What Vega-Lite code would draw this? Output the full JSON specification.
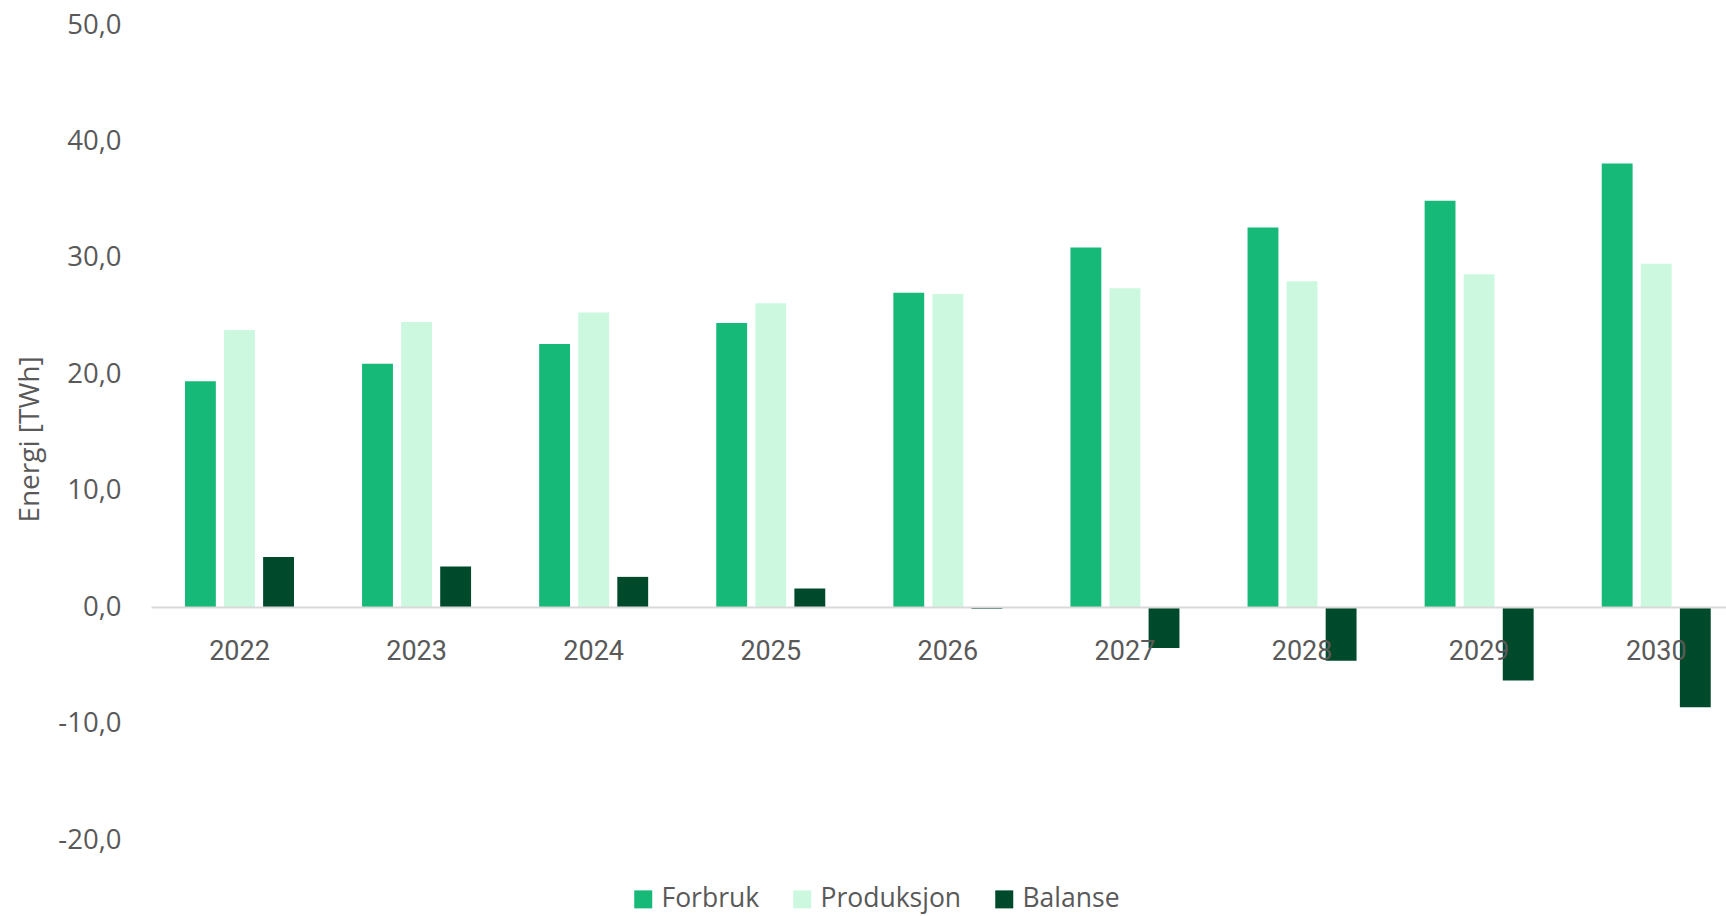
{
  "$schema": "https://vega.github.io/schema/vega-lite/v6.json",
  "width": 1575,
  "height": 815,
  "autosize": {"type": "none"},
  "padding": {"left": 151, "top": 25, "right": 0, "bottom": 76},
  "background": "white",
  "config": {"view": {"stroke": null}},
  "data": {
    "values": [
      {"year": "2022", "serie": "Forbruk", "value": 19.4},
      {"year": "2022", "serie": "Produksjon", "value": 23.8},
      {"year": "2022", "serie": "Balanse", "value": 4.3},
      {"year": "2023", "serie": "Forbruk", "value": 20.9},
      {"year": "2023", "serie": "Produksjon", "value": 24.5},
      {"year": "2023", "serie": "Balanse", "value": 3.5},
      {"year": "2024", "serie": "Forbruk", "value": 22.6},
      {"year": "2024", "serie": "Produksjon", "value": 25.3},
      {"year": "2024", "serie": "Balanse", "value": 2.6},
      {"year": "2025", "serie": "Forbruk", "value": 24.4},
      {"year": "2025", "serie": "Produksjon", "value": 26.1},
      {"year": "2025", "serie": "Balanse", "value": 1.6},
      {"year": "2026", "serie": "Forbruk", "value": 27.0},
      {"year": "2026", "serie": "Produksjon", "value": 26.9},
      {"year": "2026", "serie": "Balanse", "value": -0.15},
      {"year": "2027", "serie": "Forbruk", "value": 30.9},
      {"year": "2027", "serie": "Produksjon", "value": 27.4},
      {"year": "2027", "serie": "Balanse", "value": -3.5},
      {"year": "2028", "serie": "Forbruk", "value": 32.6},
      {"year": "2028", "serie": "Produksjon", "value": 28.0},
      {"year": "2028", "serie": "Balanse", "value": -4.6},
      {"year": "2029", "serie": "Forbruk", "value": 34.9},
      {"year": "2029", "serie": "Produksjon", "value": 28.6},
      {"year": "2029", "serie": "Balanse", "value": -6.3},
      {"year": "2030", "serie": "Forbruk", "value": 38.1},
      {"year": "2030", "serie": "Produksjon", "value": 29.5},
      {"year": "2030", "serie": "Balanse", "value": -8.6}
    ]
  },
  "mark": {"type": "bar"},
  "encoding": {
    "x": {
      "field": "year",
      "type": "nominal",
      "sort": null,
      "scale": {"paddingInner": 0.3845, "paddingOuter": 0.139, "align": 0.69},
      "axis": {
        "title": null,
        "orient": "bottom",
        "offset": -233,
        "domainColor": "#d9d9d9",
        "domainWidth": 2,
        "ticks": false,
        "grid": false,
        "labelPadding": 31,
        "labelFont": "Roboto",
        "labelFontSize": 27,
        "labelColor": "#595959",
        "labelAngle": 0,
        "zindex": 1
      }
    },
    "xOffset": {
      "field": "serie",
      "type": "nominal",
      "sort": ["Forbruk", "Produksjon", "Balanse"],
      "scale": {"paddingInner": 0.21, "paddingOuter": 0}
    },
    "y": {
      "field": "value",
      "type": "quantitative",
      "scale": {"domain": [-20, 50], "nice": false, "zero": false},
      "axis": {
        "title": "Energi [TWh]",
        "values": [-20, -10, 0, 10, 20, 30, 40, 50],
        "labelExpr": "replace(replace(format(datum.value, '.1f'), '.', ','), '\u2212', '-')",
        "domain": false,
        "ticks": false,
        "grid": false,
        "labelPadding": 30,
        "labelFont": "Open Sans",
        "labelFontSize": 27.5,
        "labelColor": "#595959",
        "titleFont": "Open Sans",
        "titleFontSize": 28,
        "titleFontWeight": "normal",
        "titleColor": "#595959",
        "titleX": -121,
        "titleY": 414,
        "titleAngle": -90,
        "titleAlign": "center",
        "titleBaseline": "middle"
      }
    },
    "color": {
      "field": "serie",
      "type": "nominal",
      "sort": ["Forbruk", "Produksjon", "Balanse"],
      "scale": {
        "domain": ["Forbruk", "Produksjon", "Balanse"],
        "range": ["#16b978", "#ccf8e0", "#004a2c"]
      },
      "legend": {
        "title": null,
        "orient": "none",
        "legendX": 479,
        "legendY": 861,
        "direction": "horizontal",
        "symbolType": "square",
        "symbolSize": 324,
        "symbolStrokeWidth": 0,
        "symbolOpacity": 1,
        "labelFont": "Open Sans",
        "labelFontSize": 26.5,
        "labelColor": "#595959",
        "labelOffset": 5,
        "columnPadding": 29,
        "padding": 0
      }
    }
  }
}
